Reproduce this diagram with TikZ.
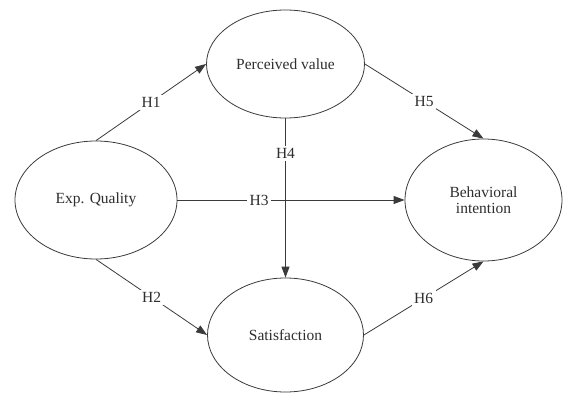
\documentclass[tikz,border=0pt]{standalone}
\usepackage{fontspec}
\setmainfont{Liberation Serif}
\usetikzlibrary{shapes.geometric,arrows.meta}
\definecolor{linec}{HTML}{3A3A3A}
\definecolor{textc}{HTML}{2E2E2E}
\tikzset{
  construct/.style={ellipse, draw=linec, line width=0.8pt, inner sep=0pt, text=textc,
    font=\fontsize{15.5}{16}\selectfont, align=center},
  path/.style={draw=linec, line width=0.8pt, -{Triangle[length=11pt,width=8pt]}},
  hlabel/.style={fill=white, inner sep=2.5pt, text=textc, font=\fontsize{15.5}{16}\selectfont}
}
\begin{document}
\begin{tikzpicture}[x=1pt,y=-1pt]
\useasboundingbox (0,0) rectangle (563,394);
\node[construct, minimum width=158pt, minimum height=108pt] (pv) at (285.5,64) {Perceived value};
\node[construct, minimum width=162pt, minimum height=118pt] (eq) at (96,200) {Exp. Quality};
\node[construct, minimum width=157pt, minimum height=122pt] (bi) at (483.5,200) {Behavioral\\intention};
\node[construct, minimum width=156pt, minimum height=114pt] (sat) at (285.5,335) {Satisfaction};
\draw[path] (eq.north) -- node[hlabel] {H1} (pv.west);
\draw[path] (eq.south) -- node[hlabel] {H2} (sat.west);
\draw[path] (pv.east) -- node[hlabel] {H5} (bi.north);
\draw[path] (sat.east) -- node[hlabel] {H6} (bi.south);
\draw[path] (pv.south) -- node[hlabel, pos=0.22] {H4} (sat.north);
\draw[path] (eq.east) -- node[hlabel, pos=0.36] {H3} (bi.west);
\end{tikzpicture}
\end{document}
